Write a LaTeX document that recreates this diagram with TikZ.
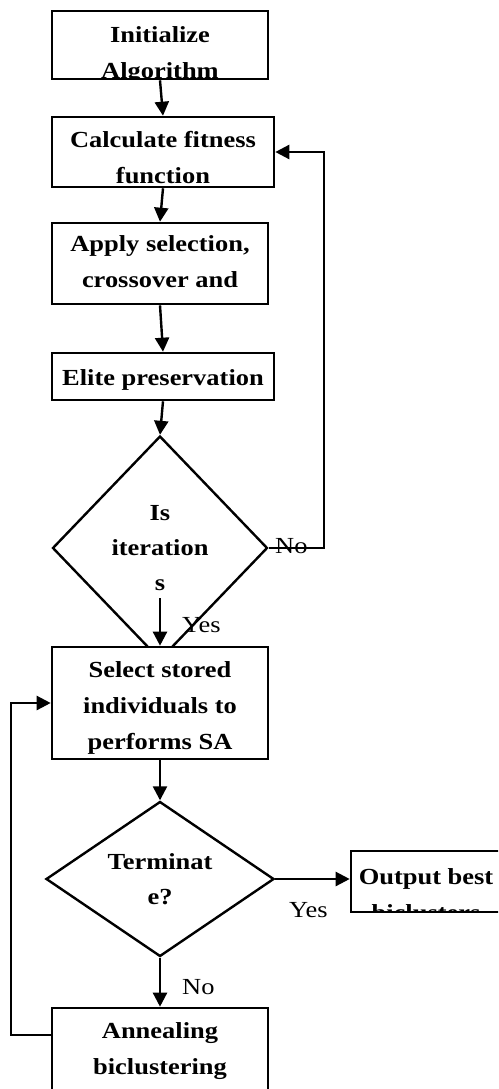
\documentclass[tikz,border=0pt]{standalone}
\usepackage{fontspec}
\setmainfont[FakeStretch=1.15]{Liberation Serif}
\usepackage{tikz}
\usetikzlibrary{arrows.meta,shapes.geometric,calc}

\tikzset{
  box/.style={draw, rectangle, line width=2.6pt, fill=white, inner sep=0pt},
  cond/.style={draw, diamond, line width=2.4pt, inner sep=0pt, align=center, font=\bfseries\fontsize{23}{35}\selectfont},
  txt/.style={inner sep=0pt, font=\bfseries\fontsize{23}{36}\selectfont},
  lbl/.style={inner sep=0pt, font=\fontsize{23}{30}\selectfont},
  arr/.style={line width=2.4pt, -{Triangle[length=14pt,width=14pt]}}
}

% text of a box, cut off by the box edge
\newcommand{\boxlines}[3][30]{\node[txt, anchor=base] (#2) at ([yshift=-#1pt]path picture bounding box.north) {\begin{tabular}[t]{@{}c@{}}#3\end{tabular}};}

\begin{document}
\begin{tikzpicture}[x=1pt, y=-1pt]
  \useasboundingbox (0,0) rectangle (498,1089);
  \clip (0,0) rectangle (498,1089);

  %genetic part
  \node[box, minimum width=216, minimum height=68, path picture={\boxlines[32]{initT}{Initialize\\Algorithm}}] (init) at (160,45) {};
  \node[box, minimum width=222, minimum height=70, path picture={\boxlines{fitT}{Calculate fitness\\function}}] (fit) at (163,152) {};
  \node[box, minimum width=216, minimum height=81, path picture={\boxlines[28.5]{applyT}{Apply selection,\\crossover and}}] (apply) at (160,263.5) {};
  \node[box, minimum width=222, minimum height=47, path picture={\boxlines[32]{eliteT}{Elite preservation}}] (elite) at (163,376.5) {};
  \node[cond, minimum width=215, minimum height=224] (iter) at (160,548) {Is\\iteration\\s};

  %annealing part
  \node[box, minimum width=216, minimum height=112, path picture={\boxlines{selectT}{Select stored\\individuals to\\performs SA}}] (select) at (160,703) {};
  \node[cond, shape aspect=1.47, minimum width=228, minimum height=155] (term) at (160,879) {Terminat\\e?};
  \node[box, minimum width=150, minimum height=61, path picture={\boxlines[33]{outT}{Output best\\biclusters}}] (out) at (426,881.5) {};
  \node[box, minimum width=216, minimum height=100, path picture={\boxlines{annealT}{Annealing\\biclustering}}] (anneal) at (160,1058) {};

  %labels
  \node[lbl, anchor=base west] (noA) at (275,553) {No};
  \node[lbl, anchor=base west] (yesA) at (182,632) {Yes};
  \node[lbl, anchor=base west] (yesB) at (289,917) {Yes};
  \node[lbl, anchor=base west] (noB) at (182,994) {No};

  %arrows
  \foreach \a/\b in {init/fit, fit/apply, apply/elite, elite/iter, select/term, term/anneal}{
    \draw[arr] (\a.south) -- (\b.north);
  }
  \coordinate (iterout) at (160,598);
  \draw[arr] (iterout) -- (select.north);
  \draw[arr] (iter.east) -- ++(55,0) |- (fit.east);
  \draw[arr] (term.east) -- (term.east -| out.west);
  \draw[arr] ([yshift=-28pt]anneal.north west) -- ++(-40,0) |- (select.west);
\end{tikzpicture}
\end{document}
